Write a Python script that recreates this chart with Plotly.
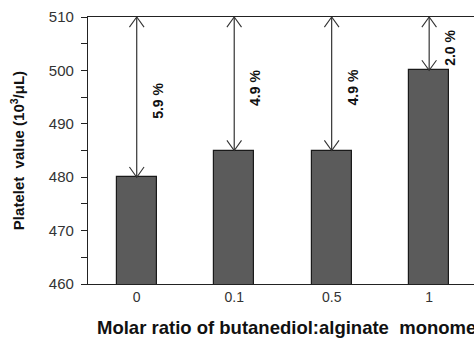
import plotly.graph_objects as go

categories = ["0", "0.1", "0.5", "1"]
platelet = [480, 485, 485, 500]
pct_labels = ["5.9 %", "4.9 %", "4.9 %", "2.0 %"]
top_value = 510
y_ticks = [460, 470, 480, 490, 500, 510]
x_title = "Molar ratio of butanediol:alginate\u00a0\u00a0monomer"
y_title = "Platelet\u00a0\u00a0value (10<sup>3</sup>/\u03bcL)"

xs = list(range(len(categories)))

fig = go.Figure()
fig.add_trace(go.Bar(
    x=xs, y=platelet, width=0.41,
    marker=dict(color="#5b5b5b", line=dict(color="#1a1a1a", width=1.2)),
    showlegend=False, hoverinfo="skip",
))

# double-headed open arrows from bar top to top line
hx, hy = 0.075, 1.9
for x, v, lab in zip(xs, platelet, pct_labels):
    fig.add_trace(go.Scatter(
        x=[x, x], y=[v, top_value], mode="lines",
        line=dict(color="#222", width=1.1), showlegend=False, hoverinfo="skip"))
    fig.add_trace(go.Scatter(
        x=[x - hx, x, x + hx, None, x - hx, x, x + hx],
        y=[top_value - hy, top_value, top_value - hy, None, v + hy, v, v + hy],
        mode="lines", line=dict(color="#333", width=1.1),
        showlegend=False, hoverinfo="skip"))
    fig.add_annotation(
        x=x, y=(v + top_value) / 2, text="<b>" + lab + "</b>", showarrow=False,
        textangle=-90, xshift=21, yshift=-4,
        font=dict(family="Liberation Sans, Arial", size=14, color="#111"))

# x-axis title (extends past right edge like the reference)
fig.add_annotation(
    xref="paper", yref="paper", x=0.018, y=-0.163, xanchor="left", yanchor="middle",
    text="<b>" + x_title + "</b>", showarrow=False,
    font=dict(family="Liberation Sans, Arial", size=18.5, color="#111"))

fig.update_layout(
    width=474, height=339,
    margin=dict(l=88, r=0, t=17, b=55),
    plot_bgcolor="white", paper_bgcolor="white",
    font=dict(family="Liberation Sans, Arial", color="#333", size=14),
    bargap=0,
)
fig.update_xaxes(
    range=[-0.5, 3.46], tickvals=xs, ticktext=categories,
    showline=True, linecolor="#222", linewidth=1.3, mirror=True,
    ticks="", showgrid=False, zeroline=False,
    tickfont=dict(size=14, color="#333"),
)
fig.update_yaxes(
    range=[460, 510], tickvals=y_ticks,
    showline=True, linecolor="#222", linewidth=1.3, mirror=False,
    ticks="outside", ticklen=6, tickcolor="#222", tickwidth=1.1,
    minor=dict(dtick=5, tick0=460, ticks="outside", ticklen=6, tickcolor="#222", tickwidth=1.1),
    showgrid=False, zeroline=False,
    tickfont=dict(size=15, color="#333"), ticklabelstandoff=4,
    title=dict(text="<b>" + y_title + "</b>",
               font=dict(size=15, color="#111"), standoff=20),
)

fig.write_html("out.html")
